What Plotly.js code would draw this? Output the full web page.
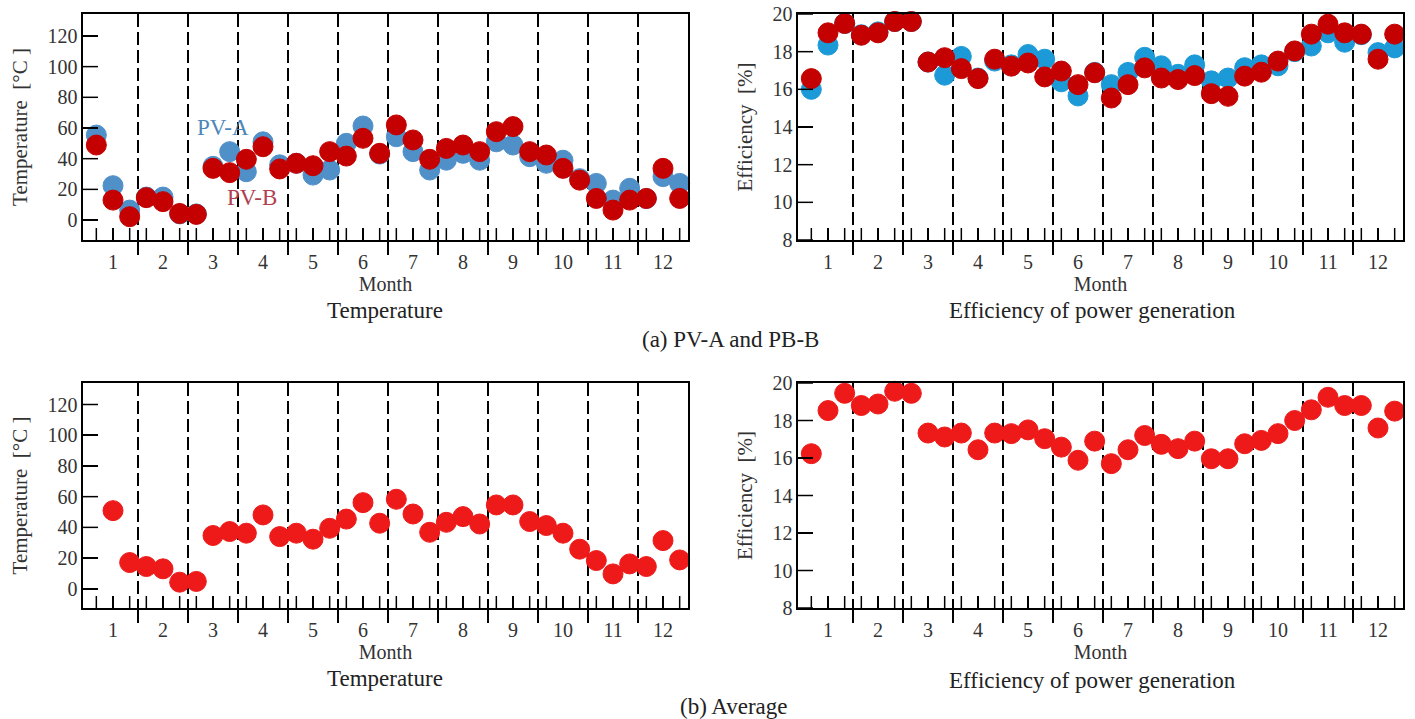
<!DOCTYPE html>
<html>
<head>
<meta charset="utf-8">
<script src="https://cdn.plot.ly/plotly-3.0.1.min.js"></script>
<style>html,body{margin:0;padding:0;background:#fff;}#chart{width:1415px;height:719px;}</style>
</head>
<body>
<div id="chart"></div>
<script>
// ---- data ----
const months = [1,2,3,4,5,6,7,8,9,10,11,12];
const monthLabels = ["1","2","3","4","5","6","7","8","9","10","11","12"];
const subOffsets = [-1/3, 0, 1/3];   // three readings per month

const tempPVA = [55.4,22.4,6.5, 15,15,4, 4,35,44.6, 31.5,51,36, 37,29.3,32.6, 50,61.3,43,
                 54.3,44.6,32.6, 39,43.5,39, 51,48.9,41.3, 37,39,27, 23.9,13,20.7, 14,28.3,23.9];
const tempPVB = [48.9,13,2.2, 14.6,12,4.3, 3.7,33.7,30.9, 39.6,47.8,33.3, 37,35.4,44.6, 41.7,53.3,43.5,
                 62,52.2,39.6, 46.7,48.9,44.6, 57.6,60.9,44.6, 42.4,33.7,26, 14.1,6.5,13, 14.1,33.7,14.1];
const effPVA  = [16.0,18.35,19.5, 18.9,19.05,19.6, 19.6,17.45,16.75, 17.75,16.6,17.5, 17.3,17.85,17.6, 16.4,15.65,16.9,
                 16.25,16.9,17.7, 17.25,16.8,17.3, 16.45,16.6,17.15, 17.3,17.25,18.0, 18.3,19.0,18.5, 18.9,17.95,18.2];
const effPVB  = [16.57,19.0,19.5, 18.87,19.0,19.6, 19.6,17.45,17.68, 17.1,16.57,17.6, 17.23,17.4,16.66, 16.97,16.25,16.88,
                 15.54,16.25,17.14, 16.6,16.52,16.73, 15.77,15.63,16.7, 16.91,17.5,18.04, 18.93,19.46,19.0, 18.93,17.6,18.93];
const tempAvg = [null,50.9,17.1, 14.5,13,4.3, 4.8,34.7,37.3, 36.2,48.1,34, 36.2,32.3,39.4, 45.4,56.1,42.7,
                 58.3,48.7,36.8, 43.3,47,42.2, 54.6,54.6,43.8, 41.2,36.2,25.8, 18.4,9.7,16.2, 14.5,31.4,18.8];
const effAvg  = [16.23,18.53,19.45, 18.8,18.88,19.56, 19.45,17.33,17.12, 17.33,16.44,17.33, 17.3,17.5,17.03, 16.58,15.88,16.9,
                 15.7,16.44,17.2, 16.73,16.5,16.9, 15.96,15.96,16.76, 16.94,17.3,18.0, 18.57,19.24,18.8, 18.8,17.6,18.5];

const tempTicks = [0,20,40,60,80,100,120];
const effTicks = [8,10,12,14,16,18,20];

// ---- derived positions ----
const slotX = [], slotText = [];
months.forEach((m,i)=>subOffsets.forEach(o=>{ slotX.push(m+o); slotText.push(o===0 ? monthLabels[i] : ""); }));
const boundaries = months.slice(0,-1).map(m=>m+0.5);

// ---- styles ----
const W = 1415, H = 719;
const FONT = "Liberation Serif, Times New Roman, serif";
const px = x => x/W, py = y => 1 - y/H;
const blueT = "#5090c8", blueE = "#1c9ad8", redD = "#c40000", redB = "#ee1a1a";
const PLOT_W = 605, PLOT_H = 226;

function mk(x, y, color, xa, ya, name){
  return {type:"scatter", mode:"markers", x:x, y:y, xaxis:xa, yaxis:ya, name:name,
          cliponaxis:false, showlegend:false,
          marker:{size:20, color:color, line:{width:1, color:color}}};
}
function xAxis(dom, anchor){
  return {domain:dom, anchor:anchor, range:[0.4,12.5], showline:true, mirror:true, linecolor:"#000", linewidth:1.6,
    zeroline:false, showgrid:false, tickmode:"array", tickvals:slotX, ticktext:slotText,
    ticks:"inside", ticklen:12, tickwidth:1.5, tickcolor:"#000", ticklabelstandoff:3,
    tickfont:{family:FONT, size:20, color:"#333"},
    minor:{tickmode:"array", tickvals:boundaries, ticks:"outside", ticklen:13, tickwidth:1.5, tickcolor:"#000",
           showgrid:true, gridcolor:"#000", gridwidth:1.5, griddash:"13px,5px"},
    title:{text:"Month", font:{family:FONT, size:20, color:"#333"}, standoff:0}};
}
function yAxis(dom, anchor, range, ticks, title){
  return {domain:dom, anchor:anchor, range:range, showline:true, mirror:true, linecolor:"#000", linewidth:1.6,
    zeroline:false, showgrid:false, tickmode:"array", tickvals:ticks,
    ticks:"inside", ticklen:15, tickwidth:1.5, tickcolor:"#000",
    tickfont:{family:FONT, size:20, color:"#333"},
    title:{text:title, font:{family:FONT, size:21, color:"#333"}, standoff:14}};
}

// tick marks repeated as shapes so they are always drawn on top
function tickShapes(xa, ya, yTickVals){
  const s = [];
  const ln = {color:"#000", width:1.5};
  slotX.forEach(v=>s.push({type:"line", layer:"above", xref:xa, yref:ya+" domain", x0:v, x1:v, y0:0, y1:12/PLOT_H, line:ln}));
  boundaries.forEach(v=>s.push({type:"line", layer:"above", xref:xa, yref:ya+" domain", x0:v, x1:v, y0:0, y1:-13/PLOT_H, line:ln}));
  yTickVals.forEach(v=>s.push({type:"line", layer:"above", xref:xa+" domain", yref:ya, x0:0, x1:15/PLOT_W, y0:v, y1:v, line:ln}));
  return s;
}

const xL = [px(83), px(688)], xR = [px(798), px(1403)];
const yT = [py(240), py(14)], yB = [py(608), py(383)];

const data = [
  mk(slotX, tempPVA, blueT, "x", "y", "PV-A"), mk(slotX, tempPVB, redD, "x", "y", "PV-B"),
  mk(slotX, effPVA, blueE, "x2", "y2", "PV-A"), mk(slotX, effPVB, redD, "x2", "y2", "PV-B"),
  mk(slotX, tempAvg, redB, "x3", "y3", "Average"), mk(slotX, effAvg, redB, "x4", "y4", "Average")
];

function cap(text, x, y, size){
  return {text:text, xref:"paper", yref:"paper", x:px(x), y:py(y), showarrow:false,
          xanchor:"center", yanchor:"middle", font:{family:FONT, size:size, color:"#222"}};
}

const layout = {
  width:W, height:H, margin:{l:0,r:0,t:0,b:0}, paper_bgcolor:"#fff", plot_bgcolor:"#fff",
  xaxis: xAxis(xL, "y"), yaxis: yAxis(yT, "x", [-13,134.3], tempTicks, "Temperature  [°C ]"),
  xaxis2: xAxis(xR, "y2"), yaxis2: yAxis(yT, "x2", [8,20], effTicks, "Efficiency  [%]"),
  xaxis3: xAxis(xL, "y3"), yaxis3: yAxis(yB, "x3", [-12.5,134], tempTicks, "Temperature  [°C ]"),
  xaxis4: xAxis(xR, "y4"), yaxis4: yAxis(yB, "x4", [8,20], effTicks, "Efficiency  [%]"),
  shapes: [].concat(tickShapes("x","y",tempTicks), tickShapes("x2","y2",effTicks),
                    tickShapes("x3","y3",tempTicks), tickShapes("x4","y4",effTicks)),
  annotations:[
    {text:"PV-A", xref:"x", yref:"y", x:3.2, y:60, showarrow:false, font:{family:FONT, size:23, color:"#4f86b8"}},
    {text:"PV-B", xref:"x", yref:"y", x:3.78, y:14.5, showarrow:false, font:{family:FONT, size:23, color:"#b04050"}},
    cap("Temperature", 385, 310, 23), cap("Efficiency of power generation", 1092, 310, 23),
    cap("(a) PV-A and PB-B", 730, 339, 23), cap("Temperature", 385, 678, 23),
    cap("Efficiency of power generation", 1092, 680, 23), cap("(b) Average", 734, 706, 23)
  ]
};

Plotly.newPlot("chart", data, layout, {staticPlot:true});
</script>
</body>
</html>
